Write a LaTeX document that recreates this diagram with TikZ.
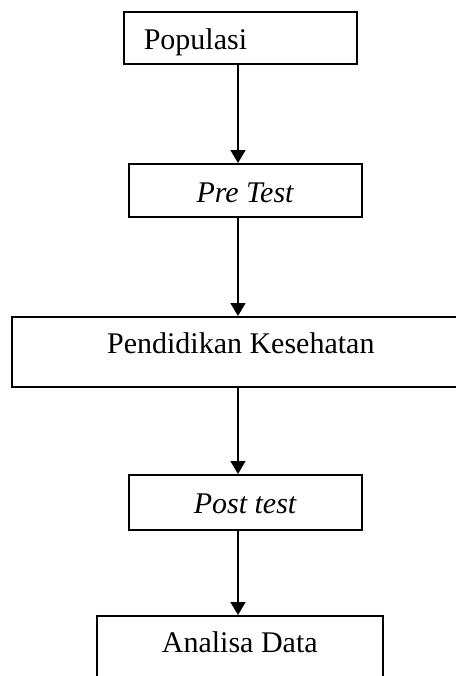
\documentclass[tikz,border=0pt]{standalone}
\usepackage{fontspec}
\setmainfont{Liberation Serif}
\usepackage{tikz}
\usetikzlibrary{arrows.meta}

\tikzset{
kotak/.style={draw, line width=0.8pt, inner ysep=0pt, anchor=north west,
  font=\fontsize{15}{18}\selectfont},
panah/.style={-{Triangle[width=7.5pt,length=6.5pt]}, line width=0.8pt}
}

\begin{document}
\begin{tikzpicture}[x=0.5pt,y=-0.5pt]
\useasboundingbox (0,0) rectangle (456,676);
\coordinate (spine) at (238,0);
\node[kotak, inner xsep=10pt, text width=96.5pt, align=left,
  text height=19pt, text depth=7pt] (populasi) at (123,11) {Populasi};
\node[kotak, minimum width=116.5pt, text height=19.5pt, text depth=7pt]
  (pretest) at (128,163) {\textit{Pre Test}};
\node[kotak, minimum width=229pt, text height=18.5pt, text depth=16.5pt]
  (penkes) at (11,316) {Pendidikan Kesehatan};
\node[kotak, minimum width=116.5pt, text height=19.5pt, text depth=8pt]
  (posttest) at (128,474) {\textit{Post test}};
\node[kotak, minimum width=143pt, text height=18.5pt, text depth=16.5pt]
  (analisa) at (96,615) {Analisa Data};
\draw[panah] (populasi.south -| spine) -- (pretest.north -| spine);
\draw[panah] (pretest.south -| spine) -- (penkes.north -| spine);
\draw[panah] (penkes.south -| spine) -- (posttest.north -| spine);
\draw[panah] (posttest.south -| spine) -- (analisa.north -| spine);
\end{tikzpicture}
\end{document}
